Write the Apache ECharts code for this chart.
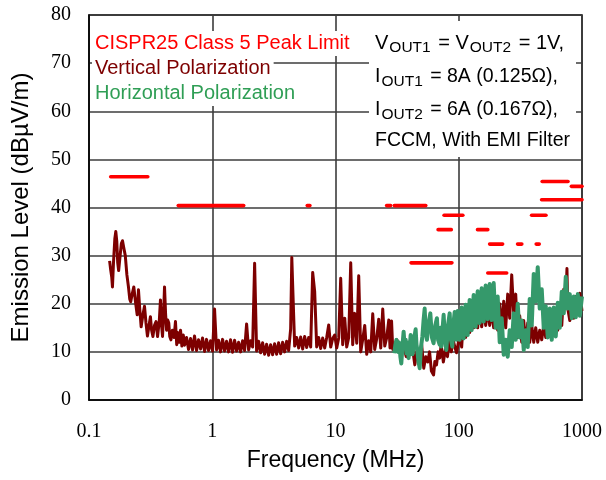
<!DOCTYPE html>
<html>
<head>
<meta charset="utf-8">
<script src="https://cdn.jsdelivr.net/npm/echarts@6/dist/echarts.min.js"></script>
<style>html,body{margin:0;padding:0;background:#fff;}#c{width:606px;height:480px;}</style>
</head>
<body>
<div id="c"></div>
<script>
// ---- data ----
const xTickValues = [0.1, 1, 10, 100, 1000];
const xTickLabels = ['0.1', '1', '10', '100', '1000'];
const yTickLabels = ['0', '10', '20', '30', '40', '50', '60', '70', '80'];

// CISPR25 Class 5 peak limit segments (MHz start, MHz end, dBuV/m)
const limitStart = [0.15, 0.53, 5.9, 26, 30, 41, 68, 76, 142, 172, 178, 300, 425, 390, 470, 475, 820];
const limitEnd   = [0.30, 1.8, 6.2, 28, 54, 88, 87, 108, 172, 245, 227, 325, 450, 510, 1000, 770, 1000];
const limitLevel = [46.4, 40.4, 40.4, 40.4, 40.4, 28.5, 35.4, 38.4, 35.4, 26.4, 32.4, 32.4, 32.4, 38.4, 41.6, 45.4, 44.4];

// Vertical polarization [MHz, dBuV/m]
const vertical = [
[0.147,28.9],[0.150,27.0],[0.153,25.5],[0.155,23.5],[0.158,28.5],[0.162,33.5],[0.165,35.0],[0.168,33.0],[0.171,28.5],[0.174,26.9],[0.178,29.5],[0.183,32.5],[0.187,33.1],[0.192,31.5],[0.197,30.0],[0.203,26.0],[0.209,23.5],[0.214,21.0],[0.218,20.4],[0.224,22.0],[0.231,23.5],[0.238,20.5],[0.246,17.7],[0.252,22.9],[0.258,19.0],[0.265,15.2],[0.273,17.5],[0.282,19.5],[0.290,16.0],[0.298,13.3],[0.307,15.5],[0.315,17.3],[0.322,14.5],[0.330,13.2],[0.340,15.5],[0.350,16.3],[0.360,13.2],[0.372,16.5],[0.380,20.8],[0.388,15.5],[0.395,13.2],[0.403,18.0],[0.410,23.5],[0.418,18.0],[0.426,14.5],[0.435,16.6],[0.444,16.0],[0.452,13.2],[0.462,12.5],[0.475,14.5],[0.490,13.0],[0.503,16.3],[0.515,11.5],[0.528,14.0],[0.540,12.0],[0.553,14.5],[0.567,11.2],[0.582,13.5],
[0.596,11.4],[0.619,13.0],[0.642,10.5],[0.667,12.8],[0.692,10.4],[0.718,13.3],[0.746,10.3],[0.774,12.5],[0.804,10.6],[0.834,12.9],[0.866,10.1],[0.899,12.6],[0.933,10.3],[0.969,12.3],[1.006,10.2],[1.044,18.9],[1.084,10.4],[1.125,12.4],[1.168,10.0],[1.213,12.6],[1.259,10.2],[1.307,12.2],[1.357,10.0],[1.408,12.5],[1.462,9.9],[1.518,12.4],[1.576,10.2],[1.636,12.0],[1.698,10.0],[1.763,12.3],[1.830,10.3],[1.900,15.8],[1.972,10.4],[2.047,12.3],[2.126,11.0],[2.207,28.4],[2.290,10.2],[2.378,12.2],[2.468,9.8],[2.562,11.9],[2.660,9.5],[2.761,11.6],[2.866,9.3],[2.976,11.5],[3.089,9.4],[3.207,11.7],[3.329,9.5],[3.456,11.9],[3.588,9.6],[3.724,12.0],[3.866,10.0],[4.014,12.2],[4.167,10.3],[4.327,14.8],[4.42,29.6],[4.492,23.9],[4.663,11.2],[4.841,13.0],[5.025,10.8],[5.217,13.1],[5.415,10.6],[5.622,13.2],[5.836,10.9],[6.058,13.0],[6.289,11.0],[6.529,26.5],[6.778,22.5],[7.036,11.0],[7.304,13.0],[7.582,10.7],[7.871,12.9],[8.171,10.8],[8.483,13.0],[8.806,15.6],[9.142,11.0],[9.490,12.8],[9.852,13.5],[10.23,10.8],[10.62,12.9],[11.02,25.3],[11.44,11.5],[11.88,17.0],[12.33,11.0],[12.80,13.0],[13.29,28.5],[13.79,11.5],[14.32,18.0],[14.87,11.8],[15.43,25.8],[16.02,10.0],[16.63,12.6],[17.26,15.5],[17.92,9.5],[18.61,12.3],[19.31,10.0],[20.05,17.9],[20.81,10.5],[21.61,12.8],[22.43,16.8],[23.29,10.8],[24.17,18.9],[25.09,11.2],[26.05,13.0],[27.04,16.6],[27.7,10.8],[28.5,16.4],[29.14,10.5],
[30.2,11.4],[31.5,12.5],[33,10.0],[34.5,11.5],[36,10.8],[37.5,9.0],[39,12.0],[40.5,9.4],[42,11.0],[44,7.3],[46,10.5],[48,8.3],[50,11.5],[52,6.6],[54,9.0],[56,7.9],[58,10.0],[60,6.0],[62.5,5.2],[64,8.0],[66,7.3],[68,10.0],[70,8.7],[72,11.5],[75,7.9],[78,10.5],[81,9.0],[84,12.5],[87,10.0],[90,12.5],[93,11.0],[96,9.8],
[98.0,9.5],[101.7,13.5],[105.6,11.0],[109.6,17.5],[113.8,13.0],[118.1,19.0],[122.6,14.0],[127.3,20.0],[132.1,15.0],[137.2,20.8],[142.4,15.0],[147.8,20.0],[153.5,15.2],[159.3,19.5],[165.4,15.5],[171.7,19.0],[178.2,15.5],[185.0,18.5],[192.1,15.0],[199.4,19.0],[207.0,14.5],[214.9,20.0],[223.1,15.0],[231.6,20.5],[240.4,15.0],[249.6,22.0],[259.1,17.0],[269.0,26.0],[279.2,18.0],[289.8,22.0],[300.9,13.0],[312.4,17.5],[324.3,12.0],[336.6,16.5],[349.5,11.5],[362.8,16.0],[376.6,12.0],[391.0,15.5],[405.9,12.0],[421.3,15.0],[437.4,12.0],[454.0,14.5],[471.4,12.5],[489.3,15.5],[508.0,13.0],[527.4,16.5],[547.5,13.5],[568.3,17.0],[590.0,14.0],[612.5,17.5],[635.8,14.5],[660.0,18.5],[685.2,15.5],[711.3,23.0],[738.4,20.0],[755,27.3],[766.6,19.0],[795.8,16.5],[826.1,20.5],[857.6,17.0],[890.3,21.5],[924.2,18.0],[959.4,22.2],[1000,18.5]
];

// Horizontal polarization [MHz, dBuV/m]
const horizontal = [
[30,9.7],[30.6,11.5],[31.2,12.5],[31.7,10.5],[32.2,10.0],[32.6,12.0],[33.1,11.5],[33.6,9.0],[34.2,7.6],[35.0,11.5],[35.7,14.2],[36.2,12.0],[36.6,11.0],[37.1,12.5],[37.6,9.7],[38.4,11.0],[39.2,8.7],[39.7,12.0],[40.2,11.5],[40.7,13.5],[41.2,12.5],[42.1,9.5],[43,11.0],[43.9,13.5],[44.7,14.7],[45.4,11.5],[46.1,10.4],[47.1,8.0],[48.2,6.6],[49.4,11.0],[50.7,13.2],[51.8,16.5],[52.9,19.0],[54.0,14.0],[55.2,12.5],[57.0,16.0],[58.8,18.0],[60.6,13.0],[62.5,11.8],[64.5,15.5],[66.5,17.0],[68,12.5],[70,11.5],[71,15.0],[72.2,11.1],[73.8,14.5],[75.4,17.7],[77.3,12.5],[79.3,10.4],[81.8,15.5],[84.4,18.0],[86.5,12.5],[88.7,11.1],[90.7,16.0],[92.7,18.3],[94.1,14.0],[95.5,12.5],
[98.0,18.5],[101.7,12.5],[105.6,19.2],[109.6,12.8],[113.8,19.8],[118.1,13.5],[122.6,20.8],[127.3,14.5],[132.1,21.8],[137.2,15.2],[142.4,22.6],[147.8,16.0],[153.5,23.2],[159.3,16.3],[165.4,23.8],[171.7,16.8],[178.2,24.1],[185.0,16.6],[192.1,24.3],[199.4,15.0],[207.0,21.5],[214.9,12.0],[223.1,17.0],[231.6,9.4],[240.4,12.5],[249.6,9.0],[259.1,14.5],[269.0,11.0],[279.2,18.0],[289.8,12.5],[300.9,20.0],[312.4,13.0],[324.3,16.5],[336.6,10.4],[349.5,14.5],[362.8,11.0],[376.6,21.0],[391.0,15.5],[405.9,26.2],[421.3,20.5],[437.4,27.6],[454.0,19.0],[471.4,23.0],[489.3,15.0],[508.0,19.5],[527.4,13.0],[547.5,19.0],[568.3,12.5],[590.0,19.2],[612.5,13.2],[635.8,20.2],[660.0,15.0],[685.2,22.5],[711.3,18.0],[738.4,25.6],[766.6,19.0],[795.8,22.0],[826.1,17.0],[857.6,21.5],[890.3,17.2],[924.2,22.0],[959.4,17.5],[1000,21.5]
];

// ---- chart ----
const chart = echarts.init(document.getElementById('c'), null, {renderer: 'canvas'});
const RED = '#ff0000', MAROON = '#7d0000', GREEN = '#35996b', GREEN_TXT = '#2f9e55';

const limitSeries = limitStart.map((s, i) => ({
  type: 'line', name: 'limit' + i, silent: true, symbol: 'none', z: 3,
  lineStyle: {color: RED, width: 3.6, cap: 'round'},
  data: [[s, limitLevel[i]], [limitEnd[i], limitLevel[i]]]
}));

const sans = 'Liberation Sans';
const subRich = {
  v: {fontFamily: sans, fontSize: 19.5, color: '#000', lineHeight: 26},
  w: {fontFamily: sans, fontSize: 20, color: '#000', lineHeight: 26},
  s: {fontFamily: sans, fontSize: 15.5, color: '#000', lineHeight: 15, verticalAlign: 'bottom', padding: [0, 2, 0, 1]}
};
function noteTitle(text, top) {
  return {text: text, left: 375, top: top, padding: 0, z: 10,
    textStyle: {fontFamily: sans, fontSize: 19.5, fontWeight: 'normal', color: '#000', lineHeight: 26, rich: subRich}};
}
function legTitle(text, color, top) {
  return {text: text, left: 92, top: top, padding: [0, 3], z: 10, backgroundColor: '#fff',
    textStyle: {fontFamily: sans, fontSize: 20, fontWeight: 'normal', color: color, lineHeight: 25}};
}

chart.setOption({
  animation: false,
  backgroundColor: '#fff',
  title: [
    legTitle('CISPR25 Class 5 Peak Limit', RED, 31),
    legTitle('Vertical Polarization', MAROON, 56),
    legTitle('Horizontal Polarization', GREEN_TXT, 81),
    noteTitle('{w|V}{s|OUT1}{w| = V}{s|OUT2}{w| = 1V,}', 30),
    noteTitle('{v|I}{s|OUT1}{v| = 8A (0.125Ω),}', 64),
    noteTitle('{v|I}{s|OUT2}{v| = 6A (0.167Ω),}', 97),
    noteTitle('{v|FCCM, With EMI Filter}', 128)
  ],
  graphic: {elements: [
    {type: 'rect', z: 5, shape: {x: 369, y: 21, width: 207, height: 136}, style: {fill: '#fff'}}
  ]},
  grid: {left: 89, right: 24, top: 15, bottom: 80, show: true, borderColor: '#000', borderWidth: 1.5, backgroundColor: 'transparent'},
  xAxis: {
    type: 'log', logBase: 10, min: 0.1, max: 1000,
    name: 'Frequency (MHz)', nameLocation: 'middle', nameGap: 49,
    nameTextStyle: {fontFamily: sans, fontSize: 23, color: '#000'},
    axisLine: {show: true, lineStyle: {color: '#000', width: 1.5}},
    axisTick: {show: false},
    axisLabel: {fontFamily: 'Liberation Serif', fontSize: 20, color: '#000', margin: 22,
      formatter: v => { const i = xTickValues.findIndex(t => Math.abs(Math.log10(t) - Math.log10(v)) < 1e-6); return i >= 0 ? xTickLabels[i] : ''; }},
    splitLine: {show: true, lineStyle: {color: '#3c3c3c', width: 1.6}}
  },
  yAxis: {
    type: 'value', min: 0, max: 80, interval: 10,
    name: 'Emission Level (dBµV/m)', nameLocation: 'middle', nameGap: 56,
    nameTextStyle: {fontFamily: sans, fontSize: 24, color: '#000'},
    axisLine: {show: true, lineStyle: {color: '#000', width: 1.5}},
    axisTick: {show: false},
    axisLabel: {fontFamily: 'Liberation Serif', fontSize: 20, color: '#000', margin: 18,
      formatter: v => yTickLabels[Math.round(v / 10)]},
    splitLine: {show: true, lineStyle: {color: '#3c3c3c', width: 1.6}}
  },
  series: [
    {type: 'line', name: 'Vertical', symbol: 'none', z: 2, silent: true,
     lineStyle: {color: MAROON, width: 3, join: 'round'}, data: vertical},
    {type: 'line', name: 'Horizontal', symbol: 'none', z: 2, silent: true,
     lineStyle: {color: GREEN, width: 4, join: 'round'}, data: horizontal}
  ].concat(limitSeries)
});
</script>
</body>
</html>
